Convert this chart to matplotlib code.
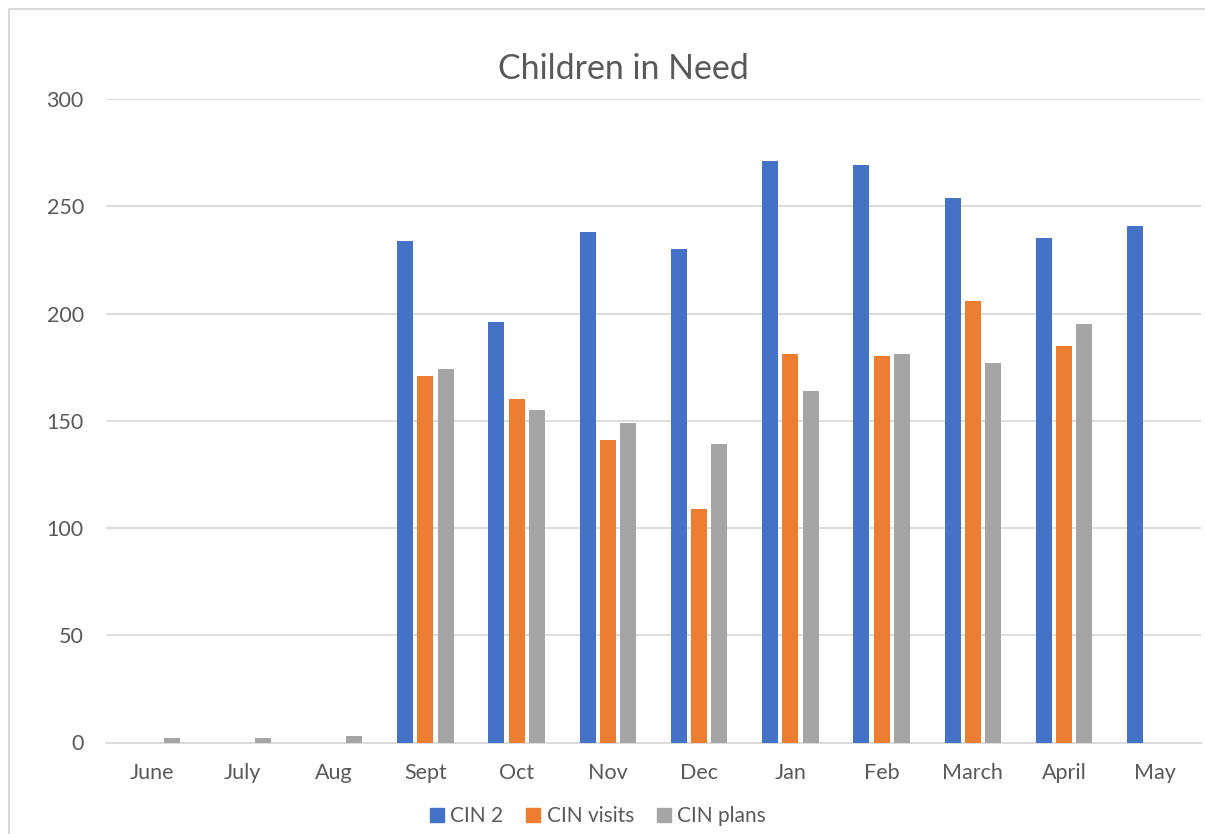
import matplotlib
matplotlib.use("Agg")
import matplotlib.pyplot as plt
import matplotlib.patches as mpatches
from matplotlib.lines import Line2D
import numpy as np

months = ["June", "July", "Aug", "Sept", "Oct", "Nov", "Dec",
          "Jan", "Feb", "March", "April", "May"]
cin2 = [0, 0, 0, 234, 196, 238, 230, 271, 269, 254, 235, 241]
cin_visits = [0, 0, 0, 171, 160, 141, 109, 181, 180, 206, 185, 0]
cin_plans = [2, 2, 3, 174, 155, 149, 139, 164, 181, 177, 195, 0]

series = [("CIN 2", cin2, "#4472C4"),
          ("CIN visits", cin_visits, "#ED7D31"),
          ("CIN plans", cin_plans, "#A5A5A5")]

plt.rcParams['font.family'] = ['Lato', 'DejaVu Sans']
txt = "#595959"
grid = "#D9D9D9"

W, H = 1205, 834
fig = plt.figure(figsize=(W / 100, H / 100), dpi=100)
ax = fig.add_axes([106 / W, 1 - 742.5 / H, (1201 - 106) / W, (742.5 - 99) / H])

x = np.arange(len(months))
bw = 0.175
step = 0.223
for i, (name, vals, col) in enumerate(series):
    ax.bar(x + (i - 1) * step, vals, width=bw, color=col, label=name, zorder=3)

ax.set_xlim(-0.5, len(months) - 0.5)
ax.set_ylim(0, 300)
ax.set_yticks(range(0, 301, 50))
ax.set_xticks(x)
ax.set_xticklabels(months)
ax.yaxis.grid(True, color=grid, linewidth=1.3, zorder=0)
ax.set_axisbelow(True)
for s in ["top", "right", "left"]:
    ax.spines[s].set_visible(False)
ax.spines["bottom"].set_color(grid)
ax.spines["bottom"].set_linewidth(1.3)
ax.tick_params(axis="both", length=0, labelsize=15.5, labelcolor=txt)
ax.tick_params(axis="y", pad=16)
ax.tick_params(axis="x", pad=15)

fig.text(623.5 / W, 1 - 69 / H, "Children in Need", ha="center", va="center",
         fontsize=24.4, color=txt)

# legend along the bottom
handles = [mpatches.Patch(color=c, label=n) for n, v, c in series]
fig.legend(handles=handles, loc="center", bbox_to_anchor=(598 / W, 1 - 816 / H),
           ncol=3, frameon=False, fontsize=15, labelcolor=txt,
           handlelength=0.68, handleheight=0.68, handletextpad=0.3,
           columnspacing=1.1, borderpad=0)

# chart area border (only left and top edges are inside the picture)
fig.add_artist(Line2D([8.5 / W, 8.5 / W, 1.0], [0.0, 1 - 9 / H, 1 - 9 / H],
                      transform=fig.transFigure, color=grid, linewidth=1.5))

fig.savefig("out.png", dpi=100)
